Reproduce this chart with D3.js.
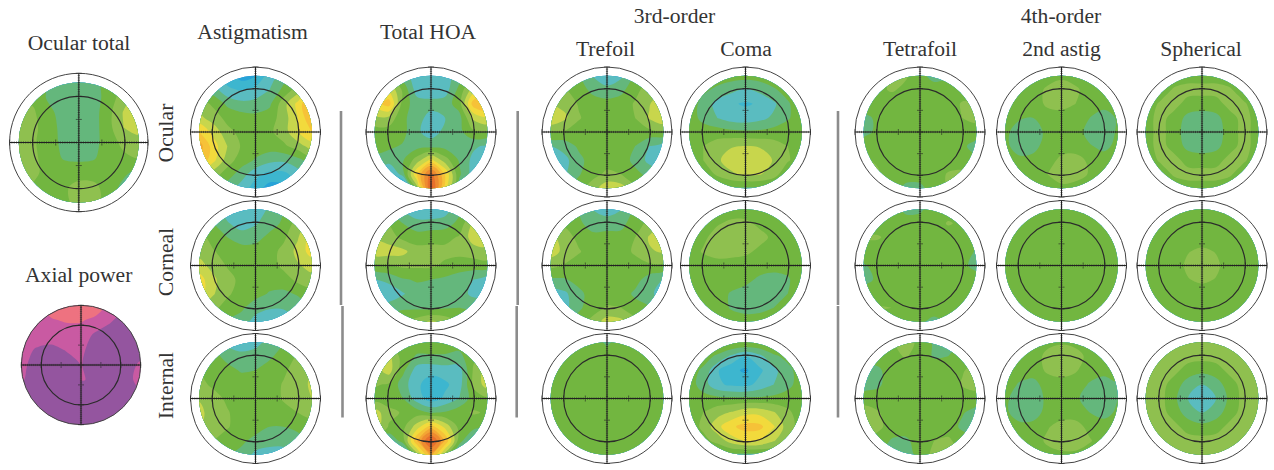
<!DOCTYPE html>
<html>
<head>
<meta charset="utf-8">
<script src="https://cdn.jsdelivr.net/npm/d3@7"></script>
<style>
  html, body { margin: 0; background: #fff; }
  svg { display: block; }
  text { font-family: "Liberation Serif", serif; font-size: 21.6px; fill: #333; text-anchor: middle; }
</style>
</head>
<body>
<svg id="chart" width="1274" height="470"></svg>
<script>
// wavefront values, 9x9 samples over the pupil, top row first
const ocularTotal = [
  [0,0,-0.6,-1.4,-1.2,-1,0,0.6,1],
  [0.6,0.3,-0.7,-1,-1,-1,0,1,2],
  [1,0.6,-0.2,-1,-1,-0.9,0.2,1.6,2.2],
  [1,0.7,0,-0.9,-1,-0.9,0.2,1.5,2],
  [1,0.6,0,-0.8,-1,-0.8,0,0.8,1],
  [1,0.7,0,-0.6,-0.7,-0.6,0,0.3,0.6],
  [2,0.8,0,0,0,0,0,-0.3,-0.8],
  [1,0.3,0,0.3,0.9,0.8,0,-0.8,-1],
  [0,-0.5,-0.7,0.2,0.9,0.9,0,-0.8,-1]];
const axialPower = [
  [1,1,2,2.5,2.5,2.2,1,0.7,0],
  [1,1,1.4,1.6,1.6,1.2,0.6,0,0],
  [1,1,1,1,1,0.3,0,0,0],
  [0.9,0.4,0.2,0.55,0.7,0,0,0,0],
  [0.7,0.2,0,0,0.52,0.3,0,0,0.7],
  [0.6,0.1,0,0,0.52,0.45,0,0.1,0.9],
  [0.1,0,0,0,0,0,0,0,0.2],
  [0,0,0,0,0,0,0,0,0],
  [0,0,0,0,0,0,0,0,0]];

const astigOcular = [
  [1,-2,-3,-4,-3.5,-2,-1,0,1],
  [0,-1,-2.3,-2.6,-2.2,-1.5,-0.2,1,3],
  [1,0.3,-0.7,-1.2,-1.1,-0.7,1.1,2.8,5],
  [1.8,1,0.2,0,-0.2,0,1,2.5,4.5],
  [3.5,2.2,0.8,0.2,0,0.3,1,2.5,3.5],
  [5,3,1.5,0.4,0,0,0.3,1,2],
  [4.5,2.8,1,0,-0.6,-1.2,-1.3,-0.8,0],
  [2.5,1,0,-1,-2.2,-2.8,-2.8,-2,-1],
  [1,0,-1,-2,-3,-4,-3.8,-2.5,-1]];
const astigCorneal = [
  [0,-1,-2,-2.6,-2.2,-1.3,-0.5,0,1],
  [0,-0.5,-1.4,-2,-1.6,-1,-0.3,1,2],
  [1,0,-0.5,-1,-0.9,-0.2,0.3,1.4,3],
  [1.2,0.6,0,0,0,0.1,0.8,1.8,3],
  [1.8,1.2,0.4,0,0,0,0.8,1.4,1.8],
  [3,1.7,0.9,0.2,0,0,0,0.8,1.2],
  [3,1.6,0.7,0,-0.1,-0.6,-0.7,-0.4,0],
  [1.6,0.8,0,-0.3,-1.1,-1.4,-1.4,-1,-0.4],
  [0.8,0,-0.6,-1,-1.9,-2.3,-2.2,-1.5,-1]];
const astigInternal = [
  [0,-0.6,-1.8,-2.1,-1.8,-1.2,-0.5,0,0.5],
  [0,-0.2,-0.8,-1.2,-1.1,-0.7,0,0.6,1.2],
  [0.5,0,-0.2,-0.6,-0.5,0,0.3,1,1.5],
  [0.8,0.3,0,0,0,0,0.6,1,1.7],
  [1.4,0.9,0.3,0,0,0,0.6,1,1.5],
  [1.8,1,0.6,0,0,0,0.2,0.5,0.9],
  [1.6,0.9,0.6,0,-0.1,-0.5,-0.5,-0.3,0],
  [0.8,0.5,0,-0.3,-0.8,-1.1,-1.1,-0.8,-0.3],
  [0.4,0,-0.4,-0.8,-1.8,-2,-2,-1.2,-0.6]];

const hoaOcular = [
  [0,0,-1,-2.1,-2.4,-2.1,-1,0.5,2],
  [1,2.5,0.3,-2,-2.4,-2,-0.2,2,3],
  [3,4,0,-1,-1,-1,0,4,4.5],
  [1.2,1.2,-0.3,-1,-2,-1.5,-0.9,1.7,2.5],
  [0,0,-0.2,-1.3,-2,-1.2,-0.8,0.3,0.3],
  [0,-0.3,-0.6,-0.9,-0.9,-0.9,-0.9,-1.3,-1.7],
  [-0.9,-1,-0.6,1,2.8,1,-0.6,-1.8,-2.2],
  [-1.5,-3,-1,3.5,7,3.5,-0.3,-2,-2.2],
  [-2,-4,-5,1,8,3,-1,-2,-2]];
const hoaCorneal = [
  [0,-0.5,-1.5,-2.2,-2.2,-2,-0.8,0.4,1],
  [0.8,0.5,-0.5,-1.2,-1.2,-1,-0.2,1.7,2.2],
  [1.3,1,0.2,0,0.2,0.2,0.6,2,2.5],
  [2.2,2,1.8,0.9,0.8,0.8,0.8,1,1],
  [0.2,0.4,0.7,0.7,0.7,0.3,0,0,0.2],
  [-1.5,-1.2,-0.6,-0.4,-0.5,-0.7,-1,-1.5,-2.2],
  [-2.2,-2.2,-1.6,-0.9,-0.9,-1,-1,-1.8,-2],
  [-1,-1,-0.7,-0.7,-0.8,-0.6,-0.5,-0.6,-0.6],
  [0,0.2,0.5,1,1.7,1.2,0.5,0,0]];
const hoaInternal = [
  [0,0,0,0,0.1,0,0,0,0.5],
  [1,1.8,0,-0.6,-0.6,-0.6,-0.8,0.3,1],
  [1,2,-0.2,-2,-2.2,-2,-2,0.6,2],
  [0.6,0.4,-1,-2.3,-3,-2.7,-2,0.7,2],
  [0,0,-0.5,-2,-3,-2.3,-1.5,0,0.3],
  [2,0.8,0.4,0,-0.6,-0.4,0.2,0.6,0.4],
  [2.2,0.4,0.2,2,4,2.2,0.2,-0.1,-0.6],
  [0.5,-1.5,0,4.5,8,4.5,0,-2,-1],
  [0,-2,-3,1,5,1,-2,-2,-1]];

const trefoilOcular = [
  [0,0,-0.4,-1.5,-2.2,-1.7,-0.3,0.5,1],
  [0.6,0.6,0,-0.8,-1.2,-0.8,0.2,1,1.5],
  [1.5,1.2,0.4,0,-0.1,0,0.6,1.4,2.5],
  [2.3,1.7,0.6,0,0,0,0.5,1.6,2.4],
  [0.6,0.4,0,0,0,0,0,0.2,0.3],
  [-1.5,-1.1,-0.3,0,0,0,-0.5,-1.5,-2],
  [-2.3,-1.8,-0.8,0,0.1,0,-0.8,-1.8,-2.2],
  [-2.2,-1.6,-0.6,0.2,0.7,0.5,-0.2,-0.8,-1.2],
  [-1,-0.8,0,1,2.2,2,0.7,0,-0.5]];
const trefoilCorneal = [
  [0,0,-0.6,-1.5,-2,-1.5,-0.3,0.3,0.8],
  [0.5,0.3,-0.3,-1,-1,-0.8,0,0.8,1.4],
  [1.8,1,0.2,-0.2,-0.1,-0.2,0.5,1.6,2.3],
  [2,1.2,0.6,0,0,0,0.7,1.4,1.6],
  [0.8,0.4,0,0,0,0,0,0.3,0.3],
  [-0.8,-0.6,-0.1,0,0,0,-0.1,-1,-1.5],
  [-2.2,-1.7,-0.8,0,0,0,-0.7,-1.2,-2.1],
  [-2.2,-1.8,-0.7,0.1,0.6,0.5,-0.1,-0.4,-1],
  [-1,-0.8,0,0.8,2,1.8,0.8,0,-0.5]];
const trefoilInternal = [
  [0,0,0,0,-0.7,0,0,0,0],
  [0,0,0,0,0,0,0,0,0],
  [0,0,0,0,0,0,0,0,0],
  [0,0,0,0,0,0,0,0,0],
  [0,0,0,0,0,0,0,0,0],
  [0,0,0,0,0,0,0,0,0],
  [0,0,0,0,0,0,0,0,0],
  [0,0,0,0,0,0,0,0,0],
  [0,0,0,0,0,0,0,0,0]];

const comaOcular = [
  [0,0,0,0,0,0,0,0,0],
  [0,-0.3,-0.7,-1.2,-1.7,-1.2,-0.6,-0.2,0],
  [0,-0.8,-1.9,-2.4,-2.6,-2.4,-1.7,-0.6,0],
  [0,-0.8,-1.5,-2,-2.1,-1.8,-1.3,-0.6,0],
  [0,0,0,-0.2,-0.3,-0.3,-0.1,0,0],
  [0,0.5,1,1.4,1.5,1.4,1,0.5,0],
  [0,0.5,1.3,2.1,2.4,2.3,1.4,0.6,0],
  [0,0.1,0.6,1.3,1.7,1.6,0.9,-0.2,-0.8],
  [0,0,-0.2,-0.6,-0.7,-0.7,-0.6,-0.7,-0.7]];
const comaCorneal = [
  [0,0,0,0,0,0,0,0,0],
  [0,0,0.4,0.7,0.7,0.3,0,0,0],
  [0,0.3,0.9,1,0.9,0.8,0.3,0,0],
  [0,0.6,0.9,0.9,0.7,0.3,0,0,0],
  [0,0,0.1,0,0,0,-0.1,-0.2,0],
  [0,0,0,0,-0.2,-0.7,-0.9,-0.6,0],
  [0,0,-0.1,-0.6,-0.9,-1,-0.9,-0.5,0],
  [0,0,0,-0.6,-0.9,-0.8,-0.5,0,0],
  [0,0,0,0,0,0,0,0,0]];
const comaInternal = [
  [0,0.6,0.8,0.7,0.6,0.6,0.7,0.6,0],
  [0,0,-0.7,-1.7,-2.5,-1.8,-0.7,-0.2,0],
  [0,-0.7,-2.4,-3.2,-3.7,-2.7,-1.8,-0.8,0],
  [0,-1,-2.3,-2.7,-2.8,-2.2,-1.5,-0.8,0],
  [0,-0.1,-0.2,-0.3,-0.3,-0.3,-0.2,0,0],
  [0,0.5,1.1,1.6,2.2,2.2,1.6,0.7,0],
  [0,0.7,2.2,3.3,3.9,3.8,2.6,1,0],
  [0,0.2,0.8,2,2.6,2.5,1.6,0.5,-0.2],
  [-0.5,-0.6,-0.7,-0.7,-0.8,-0.8,-0.7,-0.7,-0.7]];

const tetrafoilOcular = [
  [0,0,0.6,0.6,-0.2,-0.9,-0.6,0,0],
  [0,0.3,0.6,0.3,0,0,0,0,0],
  [0,0,0,0,0,0,0,0.6,0.6],
  [-0.8,-0.3,0,0,0,0,0,0.5,0.8],
  [-0.8,-0.3,0,0,0,0,0,0,0],
  [0,0,0,0,0,0,0,-0.3,-0.9],
  [0.6,0.4,0,0,0,0,0,0,-0.3],
  [0.8,0.6,0,0,0,0,0.6,0.7,0],
  [0,0,0,-0.8,-0.8,0,0.6,0.6,0]];
const tetrafoilCorneal = [
  [0,0,0,-0.8,-0.7,0,0,0,0],
  [0,0,0.4,0,0,0,0.6,0.3,0],
  [0.6,0.6,0.2,0,0,0,0,0,0],
  [0,0,0,0,0,0,0,0,-0.6],
  [-0.6,-0.2,0,0,0,0,0,-0.2,-0.9],
  [-0.9,-0.3,0,0,0,0,0,0,0],
  [0,0,0,0,0,0,0,0.3,0.6],
  [0.6,0.6,0.5,0,0,0,0.2,0.5,0.3],
  [0,0,0,0,-0.3,-0.8,-0.3,0,0]];
const tetrafoilInternal = [
  [0,0,0.4,0.8,0.3,-0.7,-0.9,-0.4,0],
  [0,0,0.2,0.6,0,-0.6,-0.5,0,0],
  [-1,-0.7,0,0,0,0,0,0.4,0.9],
  [-1,-0.7,0,0,0,0,0,0.6,0.9],
  [0,0,0,0,0,0,0,0,0],
  [1,0.6,0,0,0,0,0,-0.4,-0.9],
  [1,0.8,0,0,0,0,0,-0.7,-1],
  [0.6,0,-0.6,-0.7,0,0.5,0.7,0,-0.3],
  [0,-0.4,-0.9,-0.9,-0.2,0.8,0.9,0.3,0]];

const astig2Ocular = [
  [0,0,0,0,0.3,0,0,0,0],
  [0,0,0,0.7,1,0.7,0,0,0],
  [0,0,0,0.7,0.9,0.5,0,-0.2,0],
  [0,-0.4,-0.5,0,0,0,-0.5,-0.9,-0.4],
  [-0.3,-0.9,-0.9,-0.3,0,0,-0.9,-0.9,-0.4],
  [-0.3,-0.9,-0.8,-0.1,0,0,-0.4,-0.8,-0.2],
  [0,-0.3,-0.2,0,0.8,0.9,0.3,0,0],
  [0,0,0,0.5,0.9,1,0.4,0,0],
  [0,0,0,0,0.3,0,0,0,0]];
const astig2Corneal = [
  [0,0,0,0,0,0,0,0,0],
  [0,0,0,0,0,0,0,0,0],
  [0,0,0,0,0,0,0,0,0],
  [0,0,0,0,0,0,0,0,0],
  [0,0,0,0,0,0,0,0,0],
  [0,0,0,0,0,0,0,0,0],
  [0,0,0,0,0,0,0,0,0],
  [0,0,0,0,0,0,0,0,0],
  [0,0,0,0,0,0,0,0,0]];
const astig2Internal = [
  [0,0,0,0.2,0.4,0.2,0,0,0],
  [0,0,0,0.8,1,0.9,0.2,0,0],
  [0,0,-0.1,0.7,1,0.6,0,-0.2,0],
  [0,-0.6,-0.8,-0.1,0,0,-0.6,-0.9,-0.6],
  [-0.3,-1,-1,-0.3,0,-0.3,-1,-1,-0.5],
  [-0.3,-1,-0.9,-0.2,0,0,-0.5,-0.9,-0.3],
  [0,-0.2,-0.2,0.4,0.9,0.9,0.2,0,0],
  [0,0,0,0.7,1,1,0.6,0,0],
  [0,0,0,0.1,0.3,0.3,0,0,0]];

const sphericalOcular = [
  [0,0,0,0,0,0,0,0,0],
  [0,0,0.6,0.9,0.9,0.9,0.6,0,0],
  [0,0.6,0.9,0.1,0,0.1,0.9,0.6,0],
  [0,0.9,0.1,-0.8,-1,-0.8,0.1,0.9,0],
  [0,0.9,0,-1,-1.1,-1,0,0.9,0],
  [0,0.9,0.1,-0.8,-1,-0.8,0.1,0.9,0],
  [0,0.6,0.9,0.1,0,0.1,0.9,0.6,0],
  [0,0,0.6,0.9,0.9,0.9,0.6,0,0],
  [0,0,0,0,0,0,0,0,0]];
const sphericalCorneal = [
  [0,0,0,0,0,0,0,0,0],
  [0,0,0,0,0,0,0,0,0],
  [0,0,0,0,0,0,0,0,0],
  [0,0,0,0.45,0.7,0.45,0,0,0],
  [0,0,0,0.7,0.9,0.7,0,0,0],
  [0,0,0,0.45,0.7,0.45,0,0,0],
  [0,0,0,0,0,0,0,0,0],
  [0,0,0,0,0,0,0,0,0],
  [0,0,0,0,0,0,0,0,0]];
const sphericalInternal = [
  [0.5,0.5,0.5,0.7,0.7,0.7,0.5,0.5,0.5],
  [0.5,0.6,0.9,0.9,0.9,0.9,0.9,0.6,0.5],
  [0.5,0.9,0.8,0.1,-0.2,0.1,0.8,0.9,0.5],
  [0.7,0.9,0.1,-1,-1.5,-1,0.1,0.9,0.7],
  [0.7,0.9,-0.2,-1.5,-2.2,-1.5,-0.2,0.9,0.7],
  [0.7,0.9,0.1,-1,-1.5,-1,0.1,0.9,0.7],
  [0.5,0.9,0.8,0.1,-0.2,0.1,0.8,0.9,0.5],
  [0.5,0.6,0.9,0.9,0.9,0.9,0.9,0.6,0.5],
  [0.5,0.5,0.5,0.7,0.7,0.7,0.5,0.5,0.5]];

const rowLabels = ["Ocular", "Corneal", "Internal"];
const columnLabels = ["Astigmatism", "Total HOA", "Trefoil", "Coma", "Tetrafoil", "2nd astig", "Spherical"];
const groupLabels = ["3rd-order", "4th-order"];
const columnMaps = [
  [astigOcular, astigCorneal, astigInternal],
  [hoaOcular, hoaCorneal, hoaInternal],
  [trefoilOcular, trefoilCorneal, trefoilInternal],
  [comaOcular, comaCorneal, comaInternal],
  [tetrafoilOcular, tetrafoilCorneal, tetrafoilInternal],
  [astig2Ocular, astig2Corneal, astig2Internal],
  [sphericalOcular, sphericalCorneal, sphericalInternal]
];

// contour bands, blue through green up to red
const waveThresholds = d3.range(-5.5, 8.5, 1);
const waveColors = ["#2a86cc", "#27a3d8", "#3db6cf", "#5abcc0", "#64b77c", "#72b640", "#8fc04f",
                    "#c8d64c", "#f2da3c", "#f6c238", "#f3a634", "#ee8b30", "#e8702c", "#e2582a"];
const axialThresholds = [-0.5, 0.5, 1.5];
const axialColors = ["#94559f", "#c95aa2", "#ee7280"];

// layout
const colX = [255.5, 431, 607, 745.5, 920, 1061.5, 1202];
const rowY = [132, 265.5, 398.5];
const ringRadius = 65;
const pupilMm = 2.6, fieldMm = 3, zoneMm = 2;

const svg = d3.select("#chart");
const smooth = d3.line().curve(d3.curveCatmullRomClosed);
let clipId = 0;

function drawMap(cx, cy, radius, values, thresholds, colors, mapMm) {
  const mm = d3.scaleLinear().domain([-fieldMm, fieldMm]).range([-radius, radius]);
  const n = values.length;
  const sample = d3.scaleLinear().domain([0.5, n - 0.5]).range([-mapMm, mapMm]);
  const g = svg.append("g").attr("transform", `translate(${cx},${cy})`);

  const id = "disc" + clipId++;
  g.append("clipPath").attr("id", id).append("circle").attr("r", mm(mapMm));

  const contours = d3.contours().size([n, n]).thresholds(thresholds)(values.flat());
  g.append("g").attr("clip-path", `url(#${id})`)
    .selectAll("path")
    .data(contours)
    .join("path")
    .attr("fill", (d, i) => colors[i])
    .attr("fill-rule", "evenodd")
    .attr("d", d => d.coordinates.flat(1)
      .map(ring => smooth(ring.slice(0, -1).map(p => [mm(sample(p[0])), mm(sample(p[1]))])))
      .join(""));

  // outer ring and the central zone
  g.append("circle").attr("r", radius).attr("fill", "none").attr("stroke", "#444").attr("stroke-width", 1);
  g.append("circle").attr("r", mm(zoneMm)).attr("fill", "none").attr("stroke", "#2b2b2b").attr("stroke-width", 1.2);

  // cross hair
  g.append("line").attr("x1", -radius).attr("x2", radius).attr("stroke", "#222").attr("stroke-width", 1);
  g.append("line").attr("y1", -radius).attr("y2", radius).attr("stroke", "#222").attr("stroke-width", 1);

  const ticks = d3.range(-fieldMm, fieldMm + 0.01, 0.1);
  const size = t => Math.abs(t - Math.round(t)) < 0.01 ? 3 : 1.1;
  g.selectAll("line.hx").data(ticks).join("line").attr("class", "hx")
    .attr("x1", mm).attr("x2", mm).attr("y1", t => -size(t)).attr("y2", size)
    .attr("stroke", "#222").attr("stroke-width", 0.6);
  g.selectAll("line.vy").data(ticks).join("line").attr("class", "vy")
    .attr("y1", mm).attr("y2", mm).attr("x1", t => -size(t)).attr("x2", size)
    .attr("stroke", "#222").attr("stroke-width", 0.6);
}

columnMaps.forEach((maps, c) => {
  maps.forEach((values, r) => {
    drawMap(colX[c], rowY[r], ringRadius, values, waveThresholds, waveColors, pupilMm);
  });
});
drawMap(78.8, 142.5, 69.2, ocularTotal, waveThresholds, waveColors, pupilMm);
drawMap(81, 365, 59.7, axialPower, axialThresholds, axialColors, fieldMm);

// separators
const separators = [[341, 111, 305], [342.5, 306, 417.5], [517.7, 111, 305], [516.7, 306, 417.5], [838, 111, 305], [838, 306, 417.5]];
svg.selectAll("line.sep").data(separators).join("line").attr("class", "sep")
  .attr("x1", d => d[0]).attr("x2", d => d[0]).attr("y1", d => d[1]).attr("y2", d => d[2])
  .attr("stroke", "#8c8c8c").attr("stroke-width", 2.6);

// titles
const labelX = [252.5, 428, 605.5, 746, 920, 1061.5, 1201];
const labelY = [39, 39, 56, 56, 56, 56, 56];
svg.selectAll("text.col").data(columnLabels).join("text").attr("class", "col")
  .attr("x", (d, i) => labelX[i]).attr("y", (d, i) => labelY[i]).text(d => d);
svg.selectAll("text.grp").data(groupLabels).join("text").attr("class", "grp")
  .attr("x", (d, i) => [674.5, 1061][i]).attr("y", 23).text(d => d);
svg.append("text").attr("x", 79).attr("y", 50).text("Ocular total");
svg.append("text").attr("x", 78.7).attr("y", 282).text("Axial power");
svg.selectAll("text.row").data(rowLabels).join("text").attr("class", "row")
  .attr("transform", (d, i) => `translate(173,${[133, 262, 385.5][i]}) rotate(-90)`).text(d => d);
</script>
</body>
</html>
